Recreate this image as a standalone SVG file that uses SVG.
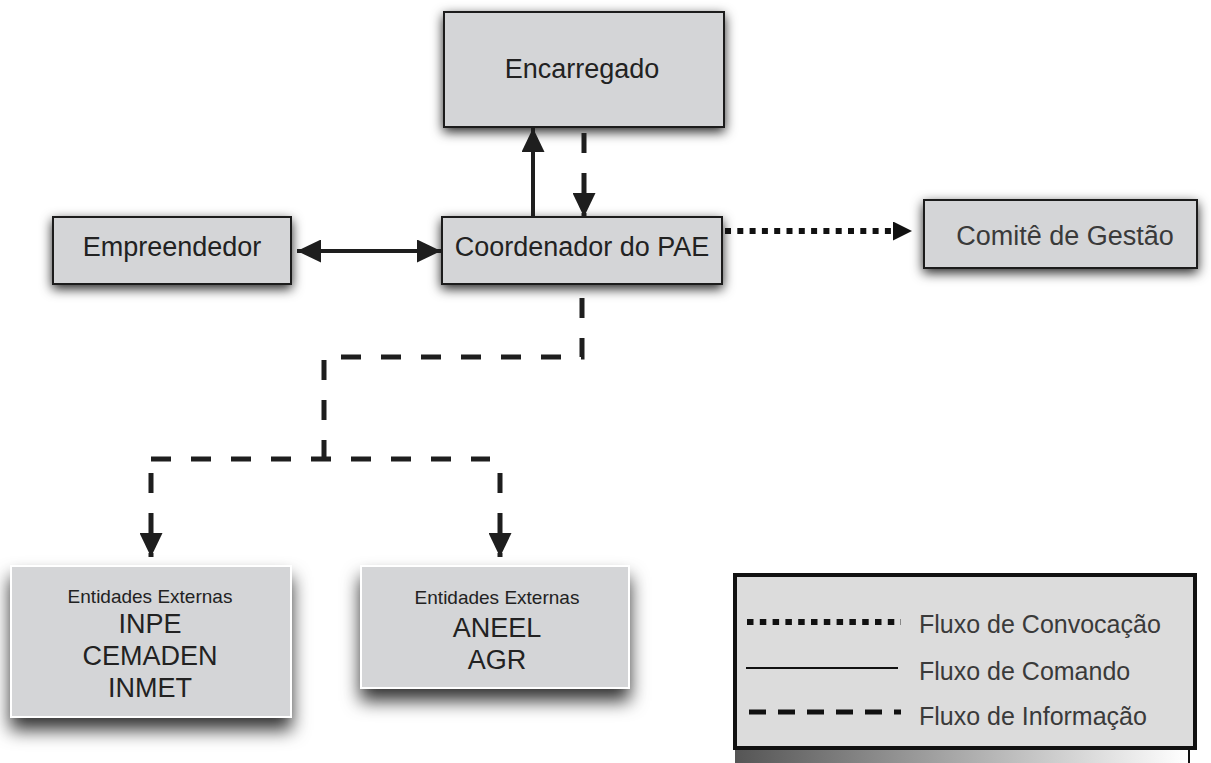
<svg xmlns="http://www.w3.org/2000/svg" width="1211" height="763" viewBox="0 0 1211 763">
<style>
.box{fill:#d4d5d7;stroke:#1e1e1e;stroke-width:2}
.wbox{fill:#d4d5d7;stroke:#ffffff;stroke-width:2}
.t{font-family:"Liberation Sans",Arial,sans-serif;fill:#222;text-anchor:middle}
.tl{font-family:"Liberation Sans",Arial,sans-serif;fill:#3a3a3a}
.solid{fill:none;stroke:#1e1e1e;stroke-width:4}
.dash{fill:none;stroke:#1e1e1e;stroke-width:5;stroke-dasharray:20 20}
.dot{fill:none;stroke:#111;stroke-width:6;stroke-dasharray:6 6.3}
</style>
<defs>
<filter id="sh" x="-30%" y="-40%" width="160%" height="200%">
<feDropShadow dx="0" dy="4" stdDeviation="6" flood-color="#000" flood-opacity="0.85"/>
</filter>
<filter id="sh2" x="-30%" y="-40%" width="160%" height="200%">
<feDropShadow dx="0" dy="12" stdDeviation="9" flood-color="#000" flood-opacity="0.8"/>
</filter>
<linearGradient id="grad" x1="0" y1="0" x2="1" y2="0">
<stop offset="0" stop-color="#555"/>
<stop offset="1" stop-color="#fff"/>
</linearGradient>
<marker id="ah" viewBox="0 0 24 23" refX="24" refY="11.5" markerWidth="24" markerHeight="23" markerUnits="userSpaceOnUse" orient="auto-start-reverse">
<path d="M0,0 L24,11.5 L0,23 Z" fill="#1e1e1e"/>
</marker>
<marker id="ahs" viewBox="0 0 19 19" refX="19" refY="9.5" markerWidth="19" markerHeight="19" markerUnits="userSpaceOnUse" orient="auto">
<path d="M0,0 L19,9.5 L0,19 Z" fill="#111"/>
</marker>
</defs>
<rect width="1211" height="763" fill="#fff"/>

<g id="encarregado">
<rect class="box" x="444" y="12" width="280" height="115" filter="url(#sh)"/>
<text class="t" x="582" y="78" font-size="27">Encarregado</text>
</g>
<g id="empreendedor">
<rect class="box" x="53" y="217" width="238" height="67" filter="url(#sh)"/>
<text class="t" x="172" y="256" font-size="27">Empreendedor</text>
</g>
<g id="coordenador">
<rect class="box" x="442" y="217" width="280" height="67" filter="url(#sh)"/>
<text class="t" x="582" y="256" font-size="27">Coordenador do PAE</text>
</g>
<g id="comite">
<rect class="box" x="924" y="200" width="273" height="68" filter="url(#sh)"/>
<text class="tl" x="1065" y="245" font-size="27" text-anchor="middle">Comitê de Gestão</text>
</g>
<g id="entidades1">
<rect class="wbox" x="11" y="566" width="280" height="151" filter="url(#sh2)"/>
<text class="t" x="150" y="603" font-size="19">Entidades Externas</text>
<text class="t" x="150" y="633" font-size="27">INPE</text>
<text class="t" x="150" y="665" font-size="27">CEMADEN</text>
<text class="t" x="150" y="697" font-size="27">INMET</text>
</g>
<g id="entidades2">
<rect class="wbox" x="361" y="566" width="268" height="122" filter="url(#sh2)"/>
<text class="t" x="497" y="604" font-size="19">Entidades Externas</text>
<text class="t" x="497" y="637" font-size="27">ANEEL</text>
<text class="t" x="497" y="669" font-size="27">AGR</text>
</g>

<g id="connectors">
<path class="solid" d="M297,251 H441" marker-start="url(#ah)" marker-end="url(#ah)"/>
<path class="solid" d="M533,217 V128" marker-end="url(#ah)"/>
<path class="dash" d="M584,133 V217" marker-end="url(#ah)"/>
<path class="dot" d="M725,231 H896"/>
<path d="M893,231 H912" fill="none" stroke="none" marker-end="url(#ahs)"/>
<path class="dash" d="M582,298 V357 H324 V459"/>
<path class="dash" d="M151,459 H490"/>
<path class="dash" d="M151,473 V557" marker-end="url(#ah)" stroke-dasharray="20 21"/>
<path class="dash" d="M500,473 V557" marker-end="url(#ah)" stroke-dasharray="20 21"/>
</g>

<g id="legend">
<rect x="735" y="748" width="452" height="15" fill="url(#grad)"/>
<line x1="1189" y1="748" x2="1189" y2="763" stroke="#111" stroke-width="2"/>
<rect x="735" y="575" width="460" height="173" fill="#dcdcdc" stroke="#111" stroke-width="4"/>
<line x1="747" y1="622" x2="901" y2="622" stroke="#111" stroke-width="6" stroke-dasharray="6.5 6.3"/>
<line x1="746" y1="668" x2="898" y2="668" stroke="#111" stroke-width="2"/>
<line x1="749" y1="712" x2="901" y2="712" stroke="#111" stroke-width="5" stroke-dasharray="17 12"/>
<text class="tl" x="919" y="633" font-size="25">Fluxo de Convocação</text>
<text class="tl" x="919" y="680" font-size="25">Fluxo de Comando</text>
<text class="tl" x="919" y="725" font-size="25">Fluxo de Informação</text>
</g>
</svg>
